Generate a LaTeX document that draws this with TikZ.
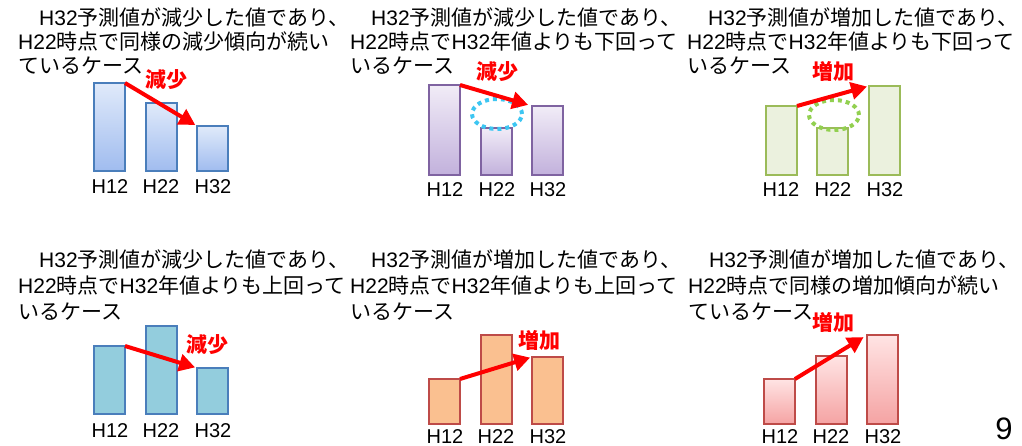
\documentclass[tikz,border=0pt]{standalone}
\usepackage{fontspec}
\setmainfont{Noto Sans CJK JP}
\newfontfamily\latf{Liberation Sans}
\newcommand\lt[1]{{\latf #1}}
\usetikzlibrary{arrows.meta,shapes.geometric}
\definecolor{blueS}{HTML}{4A7EBB}
\definecolor{blueT}{HTML}{E0EAFA}
\definecolor{blueB}{HTML}{A0BCEF}
\definecolor{purS}{HTML}{7F63A1}
\definecolor{purT}{HTML}{F1ECF7}
\definecolor{purB}{HTML}{C2B1DC}
\definecolor{grnS}{HTML}{9BBB59}
\definecolor{grnF}{HTML}{EBF1DE}
\definecolor{tealF}{HTML}{93CDDD}
\definecolor{redS}{HTML}{BE4B48}
\definecolor{orgF}{HTML}{FAC090}
\definecolor{pnkT}{HTML}{FFE4E4}
\definecolor{pnkB}{HTML}{F5A3A3}
\definecolor{cyanD}{HTML}{3DC6F2}
\definecolor{grnD}{HTML}{92D050}
\tikzset{
  txt/.style={anchor=base west, inner sep=0pt, font=\fontsize{21}{24}\selectfont},
  barlab/.style={anchor=base, inner sep=0pt, text depth=0pt, font=\latf\fontsize{20}{24}\selectfont},
  redlab/.style={anchor=center, inner sep=0pt, text=red, font=\fontsize{21}{24}\selectfont\bfseries},
  bar/.style={draw, line width=2pt, inner sep=0pt, outer sep=0pt, anchor=south west, minimum width=31pt},
  bluebar/.style={bar, draw=blueS, top color=blueT, bottom color=blueB},
  purbar/.style={bar, draw=purS, top color=purT, bottom color=purB},
  grnbar/.style={bar, draw=grnS, fill=grnF},
  tealbar/.style={bar, draw=blueS, fill=tealF},
  orgbar/.style={bar, draw=redS, fill=orgF},
  pnkbar/.style={bar, draw=redS, top color=pnkT, bottom color=pnkB},
  redarrow/.style={draw=red, line width=4pt, -{Triangle[length=16pt, width=17pt]}, shorten >=2pt},
  dotell/.style={ellipse, draw, line width=4pt, dash pattern=on 4pt off 4pt, minimum width=50pt, minimum height=30pt, inner sep=0pt}
}
\begin{document}
\begin{tikzpicture}[x=1pt, y=-1pt]
\useasboundingbox[fill=white] (0,0) rectangle (1022,446);
% ---------- Panel 1
\node[txt] (t1a) at (18,26) {　\lt{H32}予測値が減少した値であり、};
\node[txt] (t1b) at (18,50) {\lt{H22}時点で同様の減少傾向が続い};
\node[txt] (t1c) at (18,74) {ているケース};
\node[bluebar, minimum height=88pt] (b1a) at (94,171) {};
\node[bluebar, minimum height=68pt] (b1b) at (146,171) {};
\node[bluebar, minimum height=45pt] (b1c) at (197,171) {};
\node[barlab] (l1a) at (110,194) {H12};
\node[barlab] (l1b) at (161,194) {H22};
\node[barlab] (l1c) at (213,194) {H32};
\draw[redarrow] (b1a.north east) -- (b1c.north west);
\node[redlab] (r1) at (166,80) {減少};
% ---------- Panel 2
\node[txt] (t2a) at (350,26) {　\lt{H32}予測値が減少した値であり、};
\node[txt] (t2b) at (350,50) {\lt{H22}時点で\lt{H32}年値よりも下回って};
\node[txt] (t2c) at (350,74) {いるケース};
\node[purbar, minimum height=90pt] (b2a) at (429,175) {};
\node[purbar, minimum height=47pt] (b2b) at (481,175) {};
\node[purbar, minimum height=69pt] (b2c) at (532,175) {};
\node[barlab] (l2a) at (445,197) {H12};
\node[barlab] (l2b) at (497,197) {H22};
\node[barlab] (l2c) at (548,197) {H32};
\node[dotell, draw=cyanD] (e2) at (497,114) {};
\draw[redarrow, shorten >=4pt] (b2a.north east) -- (b2c.north west);
\node[redlab] (r2) at (497,72) {減少};
% ---------- Panel 3
\node[txt] (t3a) at (687,26) {　\lt{H32}予測値が増加した値であり、};
\node[txt] (t3b) at (687,50) {\lt{H22}時点で\lt{H32}年値よりも下回って};
\node[txt] (t3c) at (687,74) {いるケース};
\node[grnbar, minimum height=69pt] (b3a) at (766,175) {};
\node[grnbar, minimum height=47pt] (b3b) at (817,175) {};
\node[grnbar, minimum height=89pt] (b3c) at (869,175) {};
\node[barlab] (l3a) at (781,197) {H12};
\node[barlab] (l3b) at (833,197) {H22};
\node[barlab] (l3c) at (885,197) {H32};
\node[dotell, draw=grnD] (e3) at (834,115) {};
\draw[redarrow] (b3a.north east) -- (b3c.north west);
\node[redlab] (r3) at (833,71) {増加};
% ---------- Panel 4
\node[txt] (t4a) at (18,268) {　\lt{H32}予測値が減少した値であり、};
\node[txt] (t4b) at (18,294) {\lt{H22}時点で\lt{H32}年値よりも上回って};
\node[txt] (t4c) at (18,319) {いるケース};
\node[tealbar, minimum height=68pt] (b4a) at (94,414) {};
\node[tealbar, minimum height=88pt] (b4b) at (146,414) {};
\node[tealbar, minimum height=46pt] (b4c) at (197,414) {};
\node[barlab] (l4a) at (110,437) {H12};
\node[barlab] (l4b) at (161,437) {H22};
\node[barlab] (l4c) at (213,437) {H32};
\draw[redarrow] (b4a.north east) -- (b4c.north west);
\node[redlab] (r4) at (207,345) {減少};
% ---------- Panel 5
\node[txt] (t5a) at (350,268) {　\lt{H32}予測値が増加した値であり、};
\node[txt] (t5b) at (350,294) {\lt{H22}時点で\lt{H32}年値よりも上回って};
\node[txt] (t5c) at (350,319) {いるケース};
\node[orgbar, minimum height=45pt] (b5a) at (429,424) {};
\node[orgbar, minimum height=89pt] (b5b) at (481,424) {};
\node[orgbar, minimum height=67pt] (b5c) at (532,424) {};
\node[barlab] (l5a) at (445,443) {H12};
\node[barlab] (l5b) at (496,443) {H22};
\node[barlab] (l5c) at (548,443) {H32};
\draw[redarrow] (b5a.north east) -- (b5c.north west);
\node[redlab] (r5) at (539,340) {増加};
% ---------- Panel 6
\node[txt] (t6a) at (688,268) {　\lt{H32}予測値が増加した値であり、};
\node[txt] (t6b) at (688,294) {\lt{H22}時点で同様の増加傾向が続い};
\node[txt] (t6c) at (688,319) {ているケース};
\node[pnkbar, minimum height=45pt] (b6a) at (764,424) {};
\node[pnkbar, minimum height=68pt] (b6b) at (816,424) {};
\node[pnkbar, minimum height=89pt] (b6c) at (867,424) {};
\node[barlab] (l6a) at (780,443) {H12};
\node[barlab] (l6b) at (831,443) {H22};
\node[barlab] (l6c) at (883,443) {H32};
\draw[redarrow, shorten >=4pt] (b6a.north east) -- (b6c.north west);
\node[redlab] (r6) at (833,322) {増加};
% ---------- page number
\node[anchor=base, inner sep=0pt, text depth=0pt, font=\latf\fontsize{31}{34}\selectfont] (pg) at (1004,439) {9};
\end{tikzpicture}
\end{document}
